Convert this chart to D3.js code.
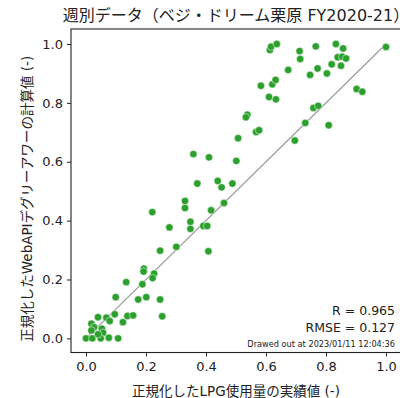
<!DOCTYPE html>
<html>
<head>
<meta charset="utf-8">
<script src="https://cdn.jsdelivr.net/npm/d3@7"></script>
<style>
  body { margin: 0; background: #fff; }
  svg { display: block; font-family: "DejaVu Sans", "Noto Sans CJK JP", sans-serif; }
</style>
</head>
<body>
<div id="chart"></div>
<script>
// weekly normalized values: measured LPG use (x) vs WebAPI degree-hour calc (y)
const actual = [1.0, 0.613, 0.617, 0.636, 0.712, 0.714, 0.766, 0.833, 0.857, 0.839, 0.854, 0.867,
  0.674, 0.772, 0.819, 0.85, 0.747, 0.803, 0.583, 0.621, 0.632, 0.61, 0.633, 0.902, 0.921,
  0.758, 0.774, 0.731, 0.809, 0.696, 0.538, 0.533, 0.567, 0.577, 0.507, 0.501, 0.358, 0.41,
  0.452, 0.488, 0.371, 0.439, 0.33, 0.33, 0.46, 0.417, 0.221, 0.278, 0.348, 0.348, 0.391,
  0.404, 0.301, 0.247, 0.408, 0.193, 0.192, 0.227, 0.222, 0.188, 0.134, 0.099, 0.174, 0.201,
  0.247, 0.254, 0.04, 0.068, 0.079, 0.096, 0.123, 0.138, 0.157, 0.018, 0.027, 0.018, 0.053,
  0.057, 0.0, 0.021, 0.049, 0.076, 0.107, 0.04];
const calc = [0.99, 0.98, 0.991, 1.0, 0.976, 0.949, 0.992, 1.0, 0.985, 0.955, 0.957, 0.951,
  0.912, 0.917, 0.931, 0.926, 0.895, 0.9, 0.858, 0.863, 0.878, 0.82, 0.812, 0.847, 0.838,
  0.783, 0.79, 0.732, 0.724, 0.672, 0.76, 0.751, 0.701, 0.707, 0.68, 0.603, 0.626, 0.615,
  0.513, 0.526, 0.526, 0.535, 0.467, 0.443, 0.46, 0.435, 0.429, 0.377, 0.396, 0.372, 0.382,
  0.382, 0.311, 0.298, 0.296, 0.237, 0.227, 0.22, 0.205, 0.184, 0.191, 0.14, 0.132, 0.14,
  0.132, 0.075, 0.072, 0.07, 0.059, 0.082, 0.055, 0.076, 0.078, 0.05, 0.038, 0.027, 0.033,
  0.019, 0.0, 0.0, 0.0, 0.002, 0.0, 0.014];
const ticks = [0, 0.2, 0.4, 0.6, 0.8, 1.0];
const title = "週別データ（ベジ・ドリーム栗原 FY2020-21）";
const xLabel = "正規化したLPG使用量の実績値 (-)";
const yLabel = "正規化したWebAPIデグリーアワーの計算値 (-)";
const stats = ["R = 0.965", "RMSE = 0.127"];
const stamp = "Drawed out at 2023/01/11 12:04:36";

const W = 400, H = 398;
const mLeft = 71, mRight = 401, mTop = 29, mBottom = 352.5;

const svg = d3.select("#chart").append("svg").attr("width", W).attr("height", H);

const x = d3.scaleLinear().domain([-0.05, 1.05]).range([mLeft, mRight]);
const y = d3.scaleLinear().domain([-0.048, 1.051]).range([mBottom, mTop]);

// diagonal y = x
svg.append("line")
  .attr("x1", x(0)).attr("y1", y(0))
  .attr("x2", x(1)).attr("y2", y(1))
  .attr("stroke", "#9a9a9a").attr("stroke-width", 1.2);

svg.append("g").selectAll("circle")
  .data(actual.map((v, i) => [v, calc[i]]))
  .join("circle")
  .attr("cx", d => x(d[0]))
  .attr("cy", d => y(d[1]))
  .attr("r", 3.7)
  .attr("fill", "#2ca02c")
  .attr("stroke", "#fff")
  .attr("stroke-width", 0.5);

// frame
svg.append("rect")
  .attr("x", mLeft).attr("y", mTop)
  .attr("width", mRight - mLeft).attr("height", mBottom - mTop)
  .attr("fill", "none").attr("stroke", "#222").attr("stroke-width", 1.1);

const xAxis = svg.append("g").attr("transform", `translate(0,${mBottom})`)
  .call(d3.axisBottom(x).tickValues(ticks).tickFormat(d3.format(".1f")).tickSize(4).tickPadding(5));
const yAxis = svg.append("g").attr("transform", `translate(${mLeft},0)`)
  .call(d3.axisLeft(y).tickValues(ticks).tickFormat(d3.format(".1f")).tickSize(4).tickPadding(4));
[xAxis, yAxis].forEach(a => {
  a.select(".domain").remove();
  a.selectAll("line").attr("stroke", "#222").attr("stroke-width", 1);
  a.selectAll("text").attr("font-size", 13).attr("fill", "#222")
    .attr("font-family", "DejaVu Sans, sans-serif");
});

// title runs past the right edge, as in the original
svg.append("text")
  .attr("x", (mLeft + mRight) / 2).attr("y", 21)
  .attr("text-anchor", "middle").attr("font-size", 16).attr("fill", "#222")
  .text(title);

svg.append("text")
  .attr("x", (mLeft + mRight) / 2).attr("y", 396)
  .attr("text-anchor", "middle").attr("font-size", 13.5).attr("fill", "#222")
  .text(xLabel);

svg.append("text")
  .attr("transform", `translate(32,${(mTop + mBottom) / 2 + 8}) rotate(-90)`)
  .attr("text-anchor", "middle").attr("font-size", 13.5).attr("fill", "#222")
  .text(yLabel);

svg.append("g").selectAll("text")
  .data(stats)
  .join("text")
  .attr("x", 395).attr("y", (d, i) => 315 + i * 17)
  .attr("text-anchor", "end").attr("font-size", 12.5).attr("fill", "#222")
  .text(d => d);

svg.append("text")
  .attr("x", 395).attr("y", 347)
  .attr("text-anchor", "end").attr("font-size", 8.2).attr("fill", "#222")
  .text(stamp);
</script>
</body>
</html>
